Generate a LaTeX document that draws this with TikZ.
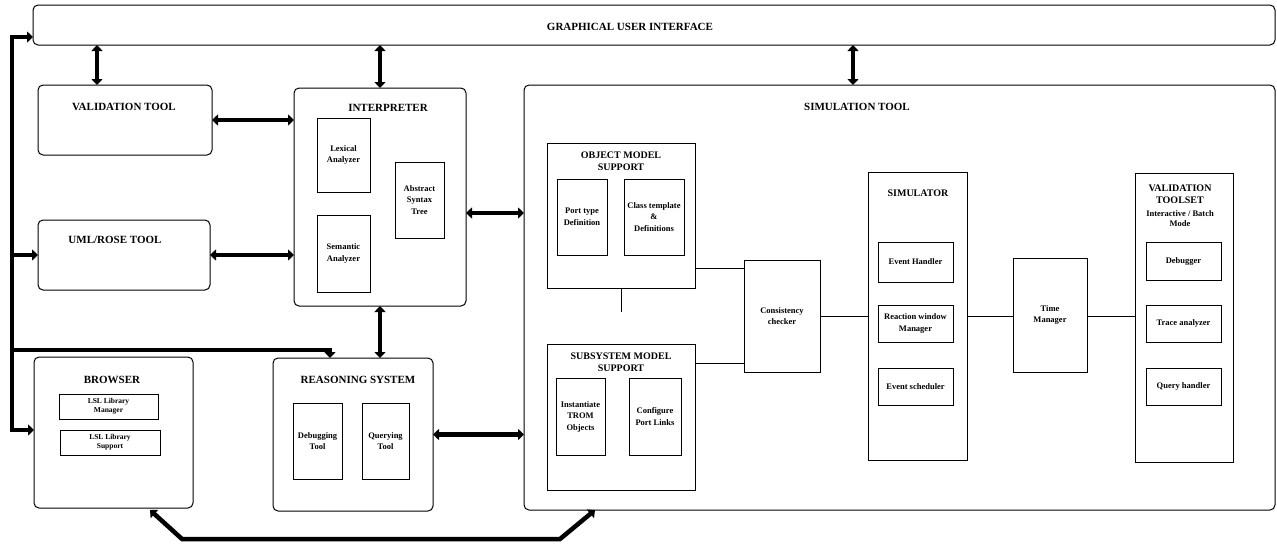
\documentclass[tikz,border=0pt]{standalone}
\usepackage{fontspec}
\setmainfont{Liberation Serif}
\usetikzlibrary{arrows.meta}
\begin{document}
\begin{tikzpicture}[x=1pt,y=-1pt,
  wh/.style 2 args={minimum width=#1pt, minimum height=#2pt},
  outer/.style={draw, line width=1pt, rounded corners=5pt, anchor=north west, inner sep=0pt, outer sep=0pt},
  sub/.style={draw, line width=0.9pt, anchor=north west, inner sep=0pt, outer sep=0pt},
  inner/.style={draw, line width=0.9pt, anchor=north west, inner sep=1pt, outer sep=0pt, align=center,
    font=\fontsize{8.5}{11.5}\selectfont\bfseries},
  small/.style={font=\fontsize{7.5}{9}\selectfont\bfseries},
  title/.style={font=\fontsize{11}{13}\selectfont\bfseries, align=center, inner sep=0pt},
  subtitle/.style={font=\fontsize{10}{12.5}\selectfont\bfseries, align=center, inner sep=0pt},
  note/.style={font=\fontsize{8.5}{10}\selectfont\bfseries, align=center, inner sep=0pt},
  bus/.style={line width=4.5pt},
  busarrow/.style={line width=4.5pt, -{Triangle[length=6pt,width=11pt]}},
  both/.style={line width=4.5pt, {Triangle[length=6pt,width=11pt]}-{Triangle[length=6pt,width=11pt]}},
  link/.style={line width=0.9pt}
]
\useasboundingbox (0,0) rectangle (1277,547);

% ---------- top bar ----------
\node[outer, wh={1242}{40}] (gui) at (33,5) {};
\node[title] (guiT) at (630,27) {GRAPHICAL USER INTERFACE};

% ---------- left column ----------
\node[outer, wh={174}{70}] (val) at (38,85) {};
\node[title] (valT) at (124,107) {VALIDATION TOOL};

\node[outer, wh={172}{70}] (uml) at (38,220) {};
\node[title] (umlT) at (115,240) {UML/ROSE TOOL};

\node[outer, wh={159}{151}] (browser) at (34,357) {};
\node[title] (browserT) at (112,380) {BROWSER};
\node[inner, small, wh={99}{25}] (lslm) at (59,394) {LSL Library\\Manager};
\node[inner, small, wh={100}{25}] (lsls) at (60,430) {LSL Library\\Support};

% ---------- interpreter ----------
\node[outer, wh={172}{218}] (interp) at (294,88) {};
\node[title] (interpT) at (388,108) {INTERPRETER};
\node[inner, wh={53}{74}] (lex) at (317,118) {Lexical\\Analyzer};
\node[inner, wh={53}{77}] (sem) at (317,215) {Semantic\\Analyzer};
\node[inner, wh={49}{76}] (ast) at (395,162) {Abstract\\Syntax\\Tree};

% ---------- reasoning system ----------
\node[outer, wh={160}{153}] (reason) at (273,358) {};
\node[title] (reasonT) at (358,380) {REASONING SYSTEM};
\node[inner, wh={49}{76}] (dbg) at (293,403) {Debugging\\Tool};
\node[inner, wh={47}{76}] (qry) at (362,403) {Querying\\Tool};

% ---------- simulation tool ----------
\node[outer, wh={751}{425}] (sim) at (524,85) {};
\node[title] (simT) at (857,107) {SIMULATION TOOL};

\node[sub, wh={148}{145}] (oms) at (547,143) {};
\node[subtitle] (omsT) at (621,161) {OBJECT MODEL\\SUPPORT};
\node[inner, wh={50}{76}] (port) at (557,179) {Port type\\Definition};
\node[inner, wh={60}{76}] (cls) at (624,179) {Class template\\\&\\Definitions};

\node[sub, wh={148}{146}] (sms) at (547,344) {};
\node[subtitle] (smsT) at (621,362) {SUBSYSTEM MODEL\\SUPPORT};
\node[inner, wh={49}{77}] (trom) at (556,378) {Instantiate\\TROM\\Objects};
\node[inner, wh={52}{77}] (cfg) at (629,378) {Configure\\Port Links};

\node[inner, wh={76}{112}] (cc) at (744,260) {Consistency\\checker};

\node[sub, wh={99}{288}] (simu) at (868,172) {};
\node[subtitle] (simuT) at (918,193) {SIMULATOR};
\node[inner, wh={75}{40}] (evh) at (878,242) {Event Handler};
\node[inner, wh={75}{37}] (rwm) at (878,305) {Reaction window\\Manager};
\node[inner, wh={75}{37}] (evs) at (878,368) {Event scheduler};

\node[inner, wh={74}{114}] (tm) at (1013,258) {Time\\Manager};

\node[sub, wh={98}{289}] (vts) at (1135,173) {};
\node[subtitle] (vtsT) at (1180,194) {VALIDATION\\TOOLSET};
\node[note] (vtsM) at (1180,219) {Interactive / Batch\\Mode};
\node[inner, wh={75}{38}] (dbgr) at (1146,242) {Debugger};
\node[inner, wh={75}{37}] (trace) at (1146,305) {Trace analyzer};
\node[inner, wh={75}{37}] (query) at (1146,368) {Query handler};

% ---------- thin links inside the simulation tool ----------
\coordinate (yOms) at (0,268);
\coordinate (ySms) at (0,363);
\coordinate (yChain) at (0,316);
\coordinate (omsTail) at (621,312);
\draw[link] (oms.east |- yOms) -- (cc.west |- yOms);
\draw[link] (sms.east |- ySms) -- (cc.west |- ySms);
\draw[link] (cc.east |- yChain) -- (simu.west |- yChain);
\draw[link] (simu.east |- yChain) -- (tm.west |- yChain);
\draw[link] (tm.east |- yChain) -- (vts.west |- yChain);
\draw[link] (oms.south) -- (omsTail);

% ---------- thick two-way arrows ----------
\coordinate (xVal) at (97,0);
\coordinate (xSim) at (853,0);
\coordinate (yInt) at (0,213);
\draw[both] (gui.south -| xVal) -- (val.north -| xVal);
\draw[both] (interp.north |- gui.south) -- (interp.north);
\draw[both] (gui.south -| xSim) -- (sim.north -| xSim);
\draw[both] (val.east) -- (val.east -| interp.west);
\draw[both] (uml.east) -- (uml.east -| interp.west);
\draw[both] (interp.east |- yInt) -- (sim.west |- yInt);
\draw[both] (interp.south) -- (interp.south |- reason.north);
\draw[both] (reason.east) -- (reason.east -| sim.west);

% ---------- left bus ----------
\coordinate (busTop) at (12,37);
\coordinate (busBot) at (12,430);
\coordinate (busUml) at (12,255);
\coordinate (busRs) at (12,350);
\coordinate (bendRs) at (330,350);
\draw[bus, {Triangle[length=6pt,width=11pt]}-{Triangle[length=6pt,width=11pt]}]
  (gui.west |- busTop) -- (busTop) -- (busBot) -- (browser.west |- busBot);
\draw[busarrow] (busUml) -- (uml.west |- busUml);
\draw[busarrow] (busRs) -- (bendRs) -- (bendRs |- reason.north);

% ---------- bottom loop between browser and simulation tool ----------
\coordinate (loopA) at (150,510);
\coordinate (loopB) at (182,539);
\coordinate (loopC) at (560,539);
\coordinate (loopD) at (595,510);
\draw[both] (loopA) -- (loopB) -- (loopC) -- (loopD);
\end{tikzpicture}
\end{document}
